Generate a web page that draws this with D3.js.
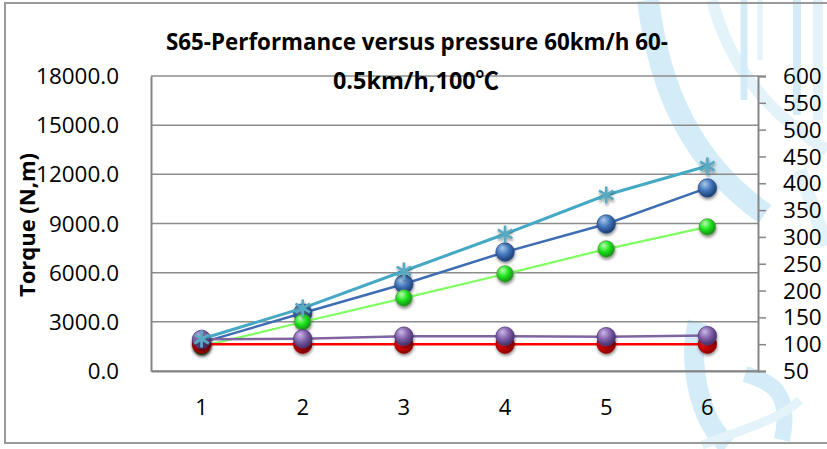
<!DOCTYPE html>
<html><head><meta charset="utf-8">
<script src="https://cdn.jsdelivr.net/npm/d3@7"></script>
<style>html,body{margin:0;padding:0;background:#fff;}svg{display:block;}</style>
</head><body>
<svg id="chart" width="827" height="449"></svg>
<script>
// ---- data ----
const categories = [1, 2, 3, 4, 5, 6];
const leftTicks = [0, 3000, 6000, 9000, 12000, 15000, 18000];
const rightTicks = [50, 100, 150, 200, 250, 300, 350, 400, 450, 500, 550, 600];
const seriesCyan = [1950, 3840, 6100, 8360, 10740, 12510];   // left axis
const seriesBlue = [1730, 3540, 5310, 7260, 8970, 11170];    // left axis
const seriesGreen = [1500, 2990, 4450, 5920, 7440, 8790];    // left axis
const seriesPurple = [109, 110, 115, 115, 114, 116];         // right axis
const seriesRed = [100, 100, 100, 100, 100, 100];            // right axis
const titleLines = ["S65-Performance versus pressure 60km/h 60-", "0.5km/h,100℃"];
const yTitle = "Torque (N,m)";

// ---- layout ----
const svg = d3.select("#chart");
const L = 151, R = 758, T = 76, B = 371;
const x = d3.scaleBand().domain(categories).range([L, R]);
const cx = d => x(d) + x.bandwidth() / 2;
const yL = d3.scaleLinear().domain([0, 18000]).range([B, T]);
const yR = d3.scaleLinear().domain([50, 600]).range([B, T]);
const FONT = "'Open Sans', 'Noto Sans', sans-serif";
const numLen = s => s.replace(/[^0-9]/g, "").length * 12.9 + (s.includes(".") ? 5.5 : 0);

const defs = svg.append("defs");
function sphere(id, hi, mid, dark) {
  const g = defs.append("radialGradient").attr("id", id)
    .attr("cx", "40%").attr("cy", "35%").attr("r", "65%").attr("fx", "35%").attr("fy", "28%");
  g.append("stop").attr("offset", "0%").attr("stop-color", hi);
  g.append("stop").attr("offset", "55%").attr("stop-color", mid);
  g.append("stop").attr("offset", "100%").attr("stop-color", dark);
}
sphere("gBlue", "#a9c8ee", "#3f72b8", "#1c3e72");
sphere("gGreen", "#b8ffb0", "#19e019", "#1a8a1a");
sphere("gGreenDark", "#7fbf7f", "#2f8a2f", "#174d17");
sphere("gRed", "#ff9a9a", "#e80000", "#800000");
sphere("gPurple", "#cdb6ea", "#7f5fa8", "#43306a");
const f = defs.append("filter").attr("id", "sh").attr("x", "-50%").attr("y", "-50%").attr("width", "200%").attr("height", "200%");
f.append("feDropShadow").attr("dx", 0.5).attr("dy", 2).attr("stdDeviation", 1.4)
  .attr("flood-color", "#000").attr("flood-opacity", 0.45);

// ---- watermark (decorative) ----
const wm = svg.append("g").attr("fill", "none").attr("stroke", "#d4ecf8").attr("stroke-linecap", "butt");
wm.append("path").attr("d", "M648,0 C660,95 695,165 765,214").attr("stroke-width", 22);
wm.append("path").attr("d", "M712,0 C728,60 762,110 827,150").attr("stroke-width", 12).attr("stroke", "#e4f3fa");
wm.append("path").attr("d", "M744,0 L744,100").attr("stroke-width", 7);
wm.append("path").attr("d", "M760,0 L760,60").attr("stroke-width", 5).attr("stroke", "#e4f3fa");
wm.append("path").attr("d", "M797,0 L797,115").attr("stroke-width", 8);
wm.append("path").attr("d", "M818,0 L818,120").attr("stroke-width", 10).attr("stroke", "#e4f3fa");
wm.append("path").attr("d", "M800,170 C810,200 820,230 827,245").attr("stroke-width", 14).attr("stroke", "#e4f3fa");
wm.append("path").attr("d", "M698,322 C688,360 698,420 728,445").attr("stroke-width", 20);
wm.append("path").attr("d", "M745,374 C772,382 792,392 782,440").attr("stroke-width", 16);
wm.append("path").attr("d", "M702,445 C740,430 780,420 800,400").attr("stroke-width", 9).attr("stroke", "#e4f3fa");

// ---- outer border ----
svg.append("rect").attr("x", 5).attr("y", 3).attr("width", 830).attr("height", 440)
  .attr("fill", "none").attr("stroke", "#9a9a9a").attr("stroke-width", 2);

// ---- gridlines ----
svg.append("g").selectAll("line").data(leftTicks).join("line")
  .attr("x1", L).attr("x2", R).attr("y1", d => yL(d)).attr("y2", d => yL(d))
  .attr("stroke", "#8c8c8c").attr("stroke-width", 1.5);

// ---- axes ----
const axL = svg.append("g").attr("transform", `translate(${L},0)`)
  .call(d3.axisLeft(yL).tickValues(leftTicks).tickSize(0).tickPadding(32).tickFormat(d3.format(".1f")));
axL.select(".domain").attr("stroke", "#868686").attr("stroke-width", 2);
axL.selectAll("text").attr("font-family", FONT).attr("font-size", 21).attr("fill", "#000").attr("dy", "0.36em")
  .attr("textLength", function () { return numLen(this.textContent); }).attr("lengthAdjust", "spacingAndGlyphs");

const axR = svg.append("g").attr("transform", `translate(${R},0)`)
  .call(d3.axisRight(yR).tickValues(rightTicks).tickSize(8).tickPadding(17));
axR.select(".domain").attr("stroke", "#868686").attr("stroke-width", 2);
axR.selectAll(".tick line").attr("stroke", "#868686").attr("stroke-width", 1.5);
axR.selectAll("text").attr("font-family", FONT).attr("font-size", 21).attr("fill", "#000").attr("dy", "0.36em")
  .attr("textLength", function () { return numLen(this.textContent); }).attr("lengthAdjust", "spacingAndGlyphs");

const axB = svg.append("g").attr("transform", `translate(0,${B})`)
  .call(d3.axisBottom(x).tickSize(0).tickPadding(28));
axB.select(".domain").attr("stroke", "#868686").attr("stroke-width", 2);
axB.selectAll("text").attr("font-family", FONT).attr("font-size", 22).attr("fill", "#000");

// ---- titles ----
svg.append("text").attr("x", 417).attr("y", 50).attr("text-anchor", "middle")
  .attr("font-family", FONT).attr("font-weight", "bold").attr("font-size", 23)
  .attr("textLength", 502).attr("lengthAdjust", "spacingAndGlyphs").text(titleLines[0]);
svg.append("text").attr("x", 416).attr("y", 89).attr("text-anchor", "middle")
  .attr("font-family", "'Open Sans', 'Noto Sans CJK SC', sans-serif").attr("font-weight", "bold").attr("font-size", 24)
  .attr("textLength", 166).attr("lengthAdjust", "spacingAndGlyphs").text(titleLines[1]);
svg.append("text").attr("transform", "translate(35,225) rotate(-90)").attr("text-anchor", "middle")
  .attr("font-family", FONT).attr("font-weight", "bold").attr("font-size", 22)
  .attr("textLength", 144).attr("lengthAdjust", "spacingAndGlyphs").text(yTitle);

// ---- series ----
const line = (vals, ys) => d3.line().x((d, i) => cx(categories[i])).y(d => ys(d))(vals);
function drawSeries(vals, ys, color, width, marker) {
  const g = svg.append("g");
  g.append("path").attr("d", line(vals, ys)).attr("fill", "none").attr("stroke", color).attr("stroke-width", width);
  const m = g.append("g").attr("filter", "url(#sh)");
  vals.forEach((v, i) => marker(m, cx(categories[i]), ys(v), i));
}
const ball = (grad, r, stroke) => (g, px, py) =>
  g.append("circle").attr("cx", px).attr("cy", py).attr("r", r).attr("fill", `url(#${grad})`)
    .attr("stroke", stroke).attr("stroke-width", 0.8);

drawSeries(seriesBlue, yL, "#3e6db3", 2.5, ball("gBlue", 9.2, "#2a4f88"));
drawSeries(seriesGreen, yL, "#80ff60", 2.2, (g, px, py, i) =>
  ball(i === 0 ? "gGreenDark" : "gGreen", 8.3, i === 0 ? "#1f5a1f" : "#5a9a4a")(g, px, py));
drawSeries(seriesRed, yR, "#ff0000", 2.5, ball("gRed", 9.2, "#a00000"));
drawSeries(seriesPurple, yR, "#8064a2", 2.5, ball("gPurple", 9.2, "#503a7a"));
drawSeries(seriesCyan, yL, "#45a9c6", 3, (g, px, py) => {
  const s = 8.5, d = s * 0.85;
  const p = `M${px},${py - s}L${px},${py + s}M${px - d},${py - d * 0.6}L${px + d},${py + d * 0.6}M${px - d},${py + d * 0.6}L${px + d},${py - d * 0.6}`;
  g.append("path").attr("d", p).attr("stroke", "#58a9c2").attr("stroke-width", 2.6).attr("fill", "none");
});
</script>
</body></html>
